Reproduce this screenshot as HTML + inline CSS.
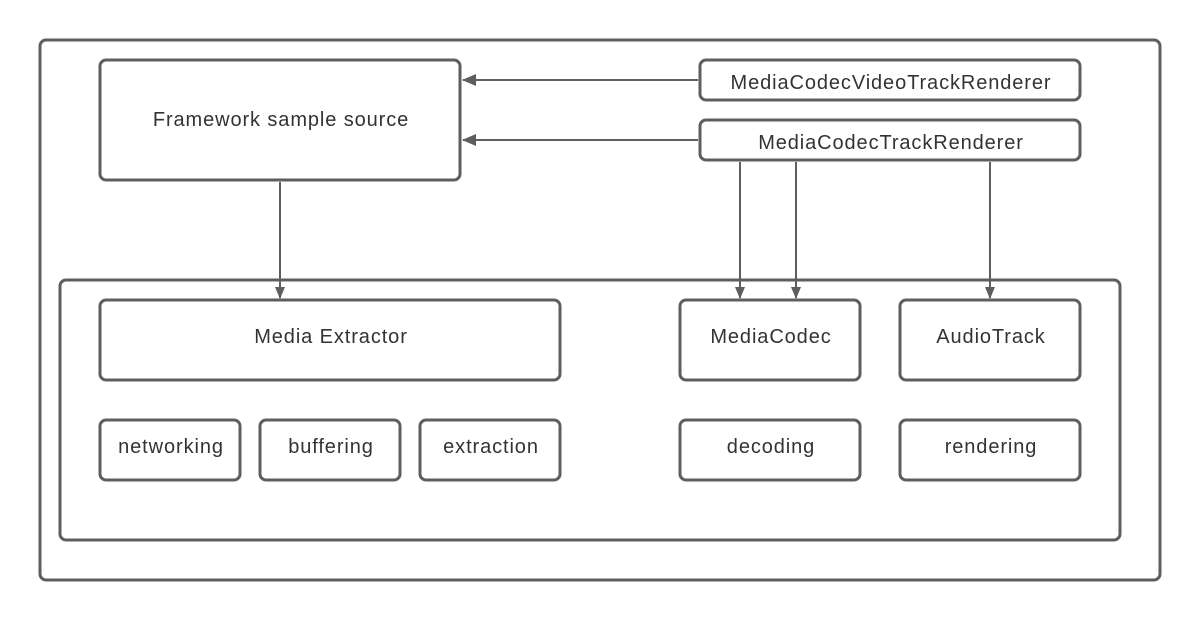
<!DOCTYPE html>
<html><head><style>body{margin:0;background:#fff}</style></head><body>
<svg width="1200" height="620" xmlns="http://www.w3.org/2000/svg" font-family="Liberation Sans, sans-serif" font-size="20" fill="#333">
<defs><marker id="a" markerWidth="12" markerHeight="10" refX="11" refY="5" orient="auto" markerUnits="userSpaceOnUse"><path d="M0,0 L12,5 L0,10 Z" fill="#5e5e5e"/></marker>
<marker id="b" markerWidth="14" markerHeight="12" refX="13" refY="6" orient="auto" markerUnits="userSpaceOnUse"><path d="M0,0 L14,6 L0,12 Z" fill="#5e5e5e"/></marker></defs>
<g fill="none" stroke="#5e5e5e" stroke-width="3">
<rect x="40" y="40" width="1120" height="540" rx="6"/>
<rect x="100" y="60" width="360" height="120" rx="6"/>
<rect x="700" y="60" width="380" height="40" rx="6"/>
<rect x="700" y="120" width="380" height="40" rx="6"/>
<rect x="60" y="280" width="1060" height="260" rx="6"/>
<rect x="100" y="300" width="460" height="80" rx="6"/>
<rect x="680" y="300" width="180" height="80" rx="6"/>
<rect x="900" y="300" width="180" height="80" rx="6"/>
<rect x="100" y="420" width="140" height="60" rx="6"/>
<rect x="260" y="420" width="140" height="60" rx="6"/>
<rect x="420" y="420" width="140" height="60" rx="6"/>
<rect x="680" y="420" width="180" height="60" rx="6"/>
<rect x="900" y="420" width="180" height="60" rx="6"/>
</g>
<g stroke="#5e5e5e" stroke-width="2">
<line x1="698" y1="80" x2="463" y2="80" marker-end="url(#b)"/>
<line x1="698" y1="140" x2="463" y2="140" marker-end="url(#b)"/>
<line x1="280" y1="182" x2="280" y2="298" marker-end="url(#a)"/>
<line x1="740" y1="162" x2="740" y2="298" marker-end="url(#a)"/>
<line x1="796" y1="162" x2="796" y2="298" marker-end="url(#a)"/>
<line x1="990" y1="162" x2="990" y2="298" marker-end="url(#a)"/>
</g>
<g text-anchor="middle" letter-spacing="0.9">
<text x="281" y="126">Framework sample source</text>
<text x="891" y="89">MediaCodecVideoTrackRenderer</text>
<text x="891" y="149">MediaCodecTrackRenderer</text>
<text x="331" y="343">Media Extractor</text>
<text x="771" y="343">MediaCodec</text>
<text x="991" y="343">AudioTrack</text>
<text x="171" y="453">networking</text>
<text x="331" y="453">buffering</text>
<text x="491" y="453">extraction</text>
<text x="771" y="453">decoding</text>
<text x="991" y="453">rendering</text>
</g>
</svg>
</body></html>
